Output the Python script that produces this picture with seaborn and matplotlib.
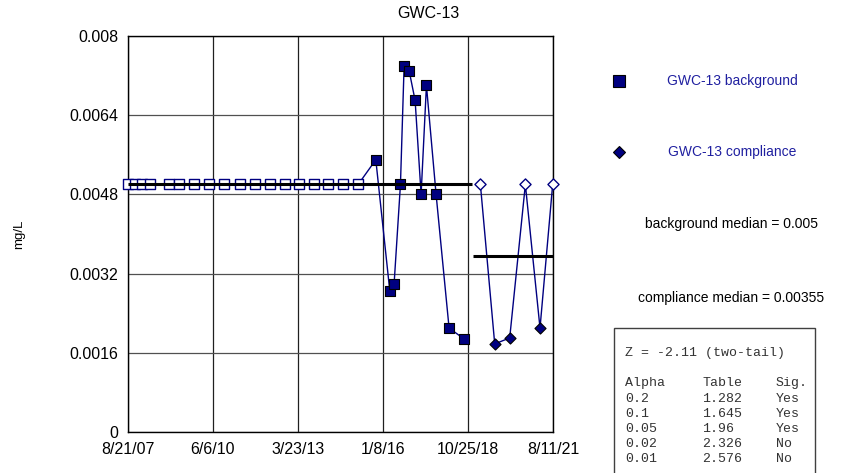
import matplotlib
matplotlib.use("Agg")
import matplotlib.pyplot as plt
import seaborn as sns
import pandas as pd
from matplotlib.lines import Line2D
from matplotlib.patches import Rectangle

# ---------------- data ----------------
bg_nd_dates = ["2007-08-25", "2007-11-13", "2008-02-01", "2008-05-11", "2008-12-29",
               "2009-04-28", "2009-10-21", "2010-04-23", "2010-10-20", "2011-04-26",
               "2011-10-23", "2012-04-20", "2012-10-17", "2013-04-07", "2013-09-30",
               "2014-03-21", "2014-09-17", "2015-03-16"]
bg_nd_values = [0.005] * 18

bg_det_dates = ["2015-10-14", "2016-03-30", "2016-05-21", "2016-08-05", "2016-09-18",
                "2016-11-17", "2017-01-28", "2017-04-10", "2017-06-13", "2017-10-07",
                "2018-03-12", "2018-09-08"]
bg_det_values = [0.0055, 0.00285, 0.0030, 0.0050, 0.0074,
                 0.0073, 0.0067, 0.0048, 0.0070, 0.0048,
                 0.0021, 0.00188]

comp_dates = ["2019-03-23", "2019-09-11", "2020-03-09", "2020-09-13", "2021-03-08", "2021-08-07"]
comp_values = [0.005, 0.00178, 0.0019, 0.005, 0.0021, 0.005]
comp_nd = [True, False, False, True, False, True]

bg_median = 0.005
comp_median = 0.00355
bg_median_span = ["2007-08-21", "2018-12-13"]
comp_median_span = ["2018-12-25", "2021-08-11"]

x_tick_dates = ["2007-08-21", "2010-06-06", "2013-03-23", "2016-01-08", "2018-10-25", "2021-08-11"]
x_tick_labels = ["8/21/07", "6/6/10", "3/23/13", "1/8/16", "10/25/18", "8/11/21"]
y_ticks = [0, 0.0016, 0.0032, 0.0048, 0.0064, 0.008]
y_tick_labels = ["0", "0.0016", "0.0032", "0.0048", "0.0064", "0.008"]

title = "GWC-13"
y_label = "mg/L"
legend_labels = ["GWC-13 background", "GWC-13 compliance"]
median_texts = ["background median = 0.005", "compliance median = 0.00355"]
z_text = "Z = -2.11 (two-tail)"
stat_header = ["Alpha", "Table", "Sig."]
alphas = ["0.2", "0.1", "0.05", "0.02", "0.01"]
table_vals = ["1.282", "1.645", "1.96", "2.326", "2.576"]
sig = ["Yes", "Yes", "Yes", "No", "No"]

# ---------------- frames ----------------
bg = pd.DataFrame({
    "date": pd.to_datetime(bg_nd_dates + bg_det_dates),
    "value": bg_nd_values + bg_det_values,
    "nd": [True] * len(bg_nd_dates) + [False] * len(bg_det_dates),
})
cp = pd.DataFrame({"date": pd.to_datetime(comp_dates), "value": comp_values, "nd": comp_nd})

# ---------------- style ----------------
sns.set_style("white")
plt.rcParams["font.family"] = ["Liberation Sans", "DejaVu Sans"]
plt.rcParams["text.color"] = "black"
plt.rcParams["axes.labelcolor"] = "black"
plt.rcParams["xtick.color"] = "black"
plt.rcParams["ytick.color"] = "black"

W, H = 850, 473
fig = plt.figure(figsize=(8.5, 4.73), dpi=100)
ax = fig.add_axes([128 / W, 1 - 432 / H, 425 / W, 396 / H])

navy = "#000080"

sns.lineplot(data=bg, x="date", y="value", sort=False, estimator=None,
             color=navy, lw=1, ax=ax, zorder=2)
sns.lineplot(data=cp, x="date", y="value", sort=False, estimator=None,
             color=navy, lw=1, ax=ax, zorder=2)

sns.scatterplot(data=bg[bg.nd], x="date", y="value", marker="s", s=58,
                color="white", edgecolor=navy, linewidth=1, ax=ax, zorder=3, clip_on=False)
sns.scatterplot(data=bg[~bg.nd], x="date", y="value", marker="s", s=58,
                color=navy, edgecolor="black", linewidth=0.8, ax=ax, zorder=3, clip_on=False)
sns.scatterplot(data=cp[cp.nd], x="date", y="value", marker="D", s=32,
                color="white", edgecolor=navy, linewidth=1, ax=ax, zorder=3, clip_on=False)
sns.scatterplot(data=cp[~cp.nd], x="date", y="value", marker="D", s=32,
                color=navy, edgecolor="black", linewidth=0.8, ax=ax, zorder=3, clip_on=False)

# medians
ax.plot(pd.to_datetime(bg_median_span), [bg_median] * 2, color="black", lw=2.2, zorder=4,
        solid_capstyle="butt")
ax.plot(pd.to_datetime(comp_median_span), [comp_median] * 2, color="black", lw=2.2, zorder=4,
        solid_capstyle="butt")

xt = pd.to_datetime(x_tick_dates)
ax.set_xlim(xt[0], xt[-1])
ax.set_ylim(0, 0.008)
ax.set_xticks(xt)
ax.set_xticklabels(x_tick_labels)
ax.set_yticks(y_ticks)
ax.set_yticklabels(y_tick_labels)
ax.tick_params(axis="both", direction="out", length=5, width=1, color="black",
               labelcolor="black", labelsize=11.5, pad=2)
for t in xt:
    ax.axvline(t, color="#202020", lw=0.9, zorder=1)
for v in y_ticks:
    ax.axhline(v, color="#505050", lw=0.9, zorder=1)
for s in ax.spines.values():
    s.set_color("black")
    s.set_linewidth(1)
ax.set_xlabel("")
ax.set_ylabel(y_label, fontsize=9.5, color="black")
ax.yaxis.set_label_coords(-0.242, 0.5)

# title
fig.text(428 / W, 1 - 14 / H, title, ha="center", va="center", fontsize=11.5, color="black")

# legend
fig.add_artist(Line2D([619 / W], [1 - 81 / H], marker="s", markersize=8, color=navy,
                      markeredgecolor="black", markeredgewidth=0.8, linestyle="none",
                      transform=fig.transFigure))
fig.add_artist(Line2D([619 / W], [1 - 152 / H], marker="D", markersize=5.8, color=navy,
                      markeredgecolor="black", markeredgewidth=0.8, linestyle="none",
                      transform=fig.transFigure))
fig.text(667 / W, 1 - 81 / H, legend_labels[0], ha="left", va="center", fontsize=10, color="#2020a0")
fig.text(668 / W, 1 - 152 / H, legend_labels[1], ha="left", va="center", fontsize=10, color="#2020a0")

fig.text(731.5 / W, 1 - 224 / H, median_texts[0], ha="center", va="center", fontsize=10, color="black")
fig.text(731.5 / W, 1 - 298 / H, median_texts[1], ha="center", va="center", fontsize=10, color="black")

# stats box
fig.add_artist(Rectangle((614 / W, -0.05), 201 / W, 0.05 + 1 - 328 / H, transform=fig.transFigure,
                         facecolor="white", edgecolor="#404040", lw=1))
mono = dict(family=["Liberation Mono", "DejaVu Sans Mono"], fontsize=9.5, color="#333333",
            va="center", ha="left")
fig.text(625 / W, 1 - 353 / H, z_text, **mono)
cols = [625, 702, 776]
for c, h in zip(cols, stat_header):
    fig.text(c / W, 1 - 383 / H, h, **mono)
for i, (a, t, s) in enumerate(zip(alphas, table_vals, sig)):
    y = 1 - (399 + 15 * i) / H
    fig.text(cols[0] / W, y, a, **mono)
    fig.text(cols[1] / W, y, t, **mono)
    fig.text(cols[2] / W, y, s, **mono)

fig.savefig("out.png", dpi=100)
